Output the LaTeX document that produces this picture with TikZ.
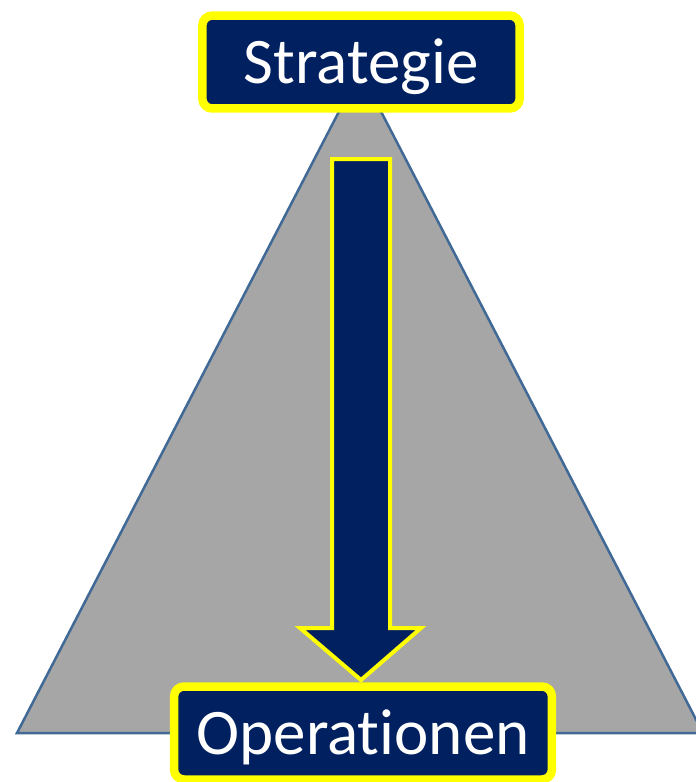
\documentclass[tikz,border=0pt]{standalone}
\usepackage{fontspec}
\setmainfont{Carlito}[Ligatures={NoCommon}]
\definecolor{navy}{RGB}{0,32,96}
\definecolor{gelb}{RGB}{255,255,0}
\definecolor{pyrgray}{RGB}{166,166,166}
\definecolor{edgeblue}{RGB}{65,105,150}
\begin{document}
\begin{tikzpicture}[x=0.02cm,y=-0.02cm,
    box/.style={draw=gelb, line width=0.17cm, fill=navy, rounded corners=0.2cm,
      text=white, font=\fontsize{37}{40}\selectfont, text height=24pt,
      text depth=0pt, minimum height=1.86cm, inner sep=0pt}]
  \useasboundingbox (0,0) rectangle (696,782);

  % Pyramid
  \draw[edgeblue, fill=pyrgray, line width=0.05cm, line join=miter]
    (17,733) -- (360,71) -- (703,733) -- cycle;

  % Block arrow
  \coordinate (T) at (361,680);
  \draw[gelb, fill=navy, line width=0.08cm, line join=miter]
    (332,159) -- (390,159) -- (390,628) -- (421,628) -- (T)
    -- (300,628) -- (332,628) -- cycle;

  % Define node positions
  \node[box, minimum width=6.35cm] (S) at (361,62) {Strategie};
  \node[box, minimum width=7.56cm] (O) at (363,733) {Operationen};
\end{tikzpicture}
\end{document}
